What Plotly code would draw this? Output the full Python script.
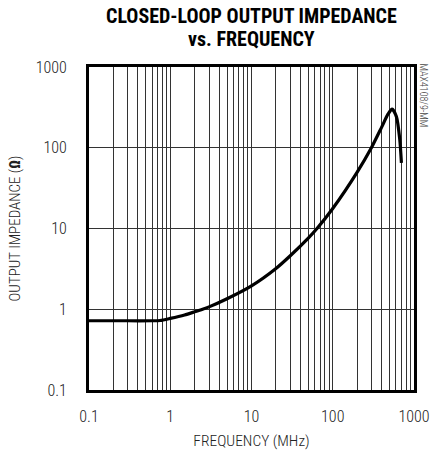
import plotly.graph_objects as go

# Closed-loop output impedance vs. frequency
freq_mhz = [0.1, 0.3, 0.6, 0.75, 1.0, 1.5, 2.0, 2.5, 3.0, 5.0, 10.0, 20.0, 30.0, 50.0, 64.0,
            100.0, 200.0, 299.0, 400.0, 480.0, 537.0, 607.0, 667.0, 700.0]
impedance_ohm = [0.72, 0.72, 0.72, 0.725, 0.77, 0.85, 0.93, 1.0, 1.07, 1.35, 1.95, 3.2, 4.6, 7.6, 10.0,
                 17.7, 50.0, 100.0, 180.0, 262.0, 300.0, 243.0, 129.0, 65.0]

# Grid positions: every 1..9 multiple per decade on x, decades only on y
x_grid = [m * 10 ** e for e in range(-1, 3) for m in range(1, 10)] + [1000]
x_labels = {0.1: "0.1", 1: "1", 10: "10", 100: "100", 1000: "1000"}
x_text = [next((t for k, t in x_labels.items() if abs(v - k) < 1e-9), "") for v in x_grid]
y_ticks = [0.1, 1, 10, 100, 1000]
y_text = ["0.1", "1", "10", "100", "1000"]

title_lines = ["CLOSED-LOOP OUTPUT IMPEDANCE", "vs. FREQUENCY"]
side_label = "MAX4108/9-MM"

font_family = "Roboto Condensed, Arial Narrow, sans-serif"

fig = go.Figure()
fig.add_trace(go.Scatter(
    x=freq_mhz, y=impedance_ohm, mode="lines",
    line=dict(color="black", width=3.2, shape="spline", smoothing=0.7),
    hoverinfo="skip", showlegend=False,
))

annotations = []
for text, ypos in zip(title_lines, [1.158, 1.087]):
    annotations.append(dict(
        text=f"<b>{text}</b>", xref="paper", yref="paper", x=0.5, y=ypos,
        xanchor="center", yanchor="middle", showarrow=False,
        font=dict(size=20, color="black", family=font_family),
    ))
annotations.append(dict(
    text=side_label, textangle=90, xref="paper", yref="paper",
    x=1.0, y=1.0, xanchor="left", yanchor="top", xshift=2, yshift=6,
    showarrow=False, font=dict(size=10, color="#444", family=font_family, weight=300),
))

fig.update_layout(
    width=441, height=455,
    margin=dict(l=89, r=27, t=67, b=65),
    paper_bgcolor="white", plot_bgcolor="white",
    font=dict(family=font_family, color="#222"),
    xaxis=dict(
        type="log", range=[-1, 3], automargin=False,
        tickvals=x_grid, ticktext=x_text,
        showgrid=True, gridcolor="#333", gridwidth=1,
        showline=True, linecolor="black", linewidth=3, mirror=True,
        ticks="", ticklabelstandoff=10, tickfont=dict(size=16, weight=300), zeroline=False,
        title=dict(text="FREQUENCY (MHz)", font=dict(size=15.5, weight=300), standoff=10),
    ),
    yaxis=dict(
        type="log", range=[-1, 3], automargin=False,
        tickvals=y_ticks, ticktext=y_text,
        showgrid=True, gridcolor="#333", gridwidth=1,
        showline=True, linecolor="black", linewidth=3, mirror=True,
        ticks="", ticklabelstandoff=16, tickfont=dict(size=16, weight=300), zeroline=False,
        title=dict(text="OUTPUT IMPEDANCE (<b>Ω</b>)", font=dict(size=15, weight=300), standoff=12),
    ),
    annotations=annotations,
)

fig.write_html("out.html")
